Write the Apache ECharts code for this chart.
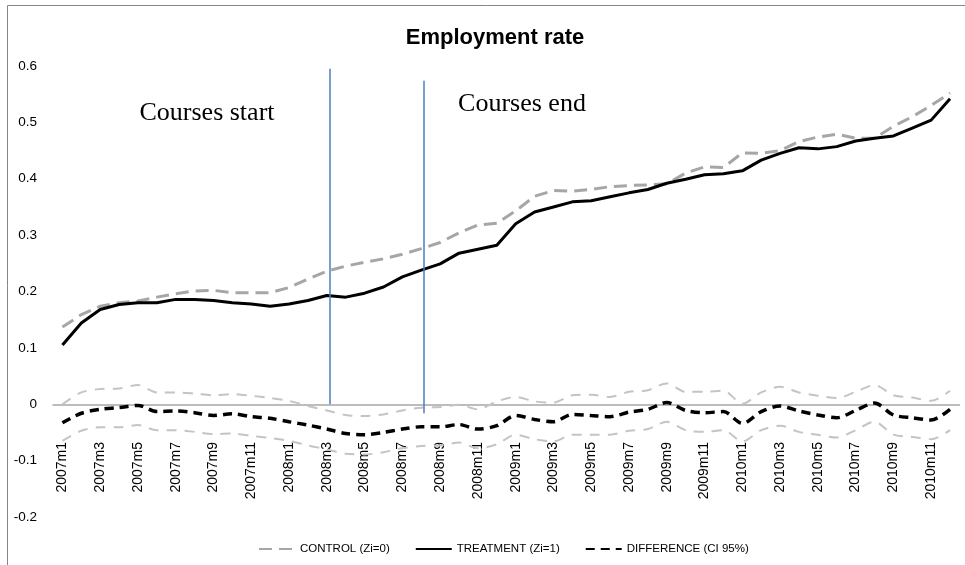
<!DOCTYPE html>
<html>
<head>
<meta charset="utf-8">
<script src="https://cdn.jsdelivr.net/npm/echarts@6/dist/echarts.min.js"></script>
<style>html,body{margin:0;padding:0;background:#fff;}#c{width:965px;height:565px;}</style>
</head>
<body>
<div id="c"></div>
<script>
var categories = ["2007m1","2007m2","2007m3","2007m4","2007m5","2007m6","2007m7","2007m8","2007m9","2007m10","2007m11","2007m12",
"2008m1","2008m2","2008m3","2008m4","2008m5","2008m6","2008m7","2008m8","2008m9","2008m10","2008m11","2008m12",
"2009m1","2009m2","2009m3","2009m4","2009m5","2009m6","2009m7","2009m8","2009m9","2009m10","2009m11","2009m12",
"2010m1","2010m2","2010m3","2010m4","2010m5","2010m6","2010m7","2010m8","2010m9","2010m10","2010m11","2010m12"];

var control = [0.137,0.159,0.174,0.180,0.183,0.190,0.196,0.201,0.202,0.198,0.198,0.198,
0.207,0.222,0.236,0.245,0.252,0.258,0.266,0.276,0.287,0.304,0.318,0.321,
0.343,0.369,0.379,0.378,0.381,0.386,0.388,0.389,0.391,0.410,0.421,0.420,
0.446,0.445,0.450,0.466,0.474,0.479,0.472,0.472,0.493,0.510,0.530,0.552];

var treatment = [0.105,0.144,0.168,0.177,0.180,0.180,0.186,0.186,0.184,0.180,0.178,0.174,
0.178,0.184,0.193,0.190,0.197,0.208,0.226,0.238,0.249,0.268,0.275,0.282,
0.320,0.341,0.350,0.359,0.361,0.368,0.375,0.381,0.392,0.399,0.407,0.409,
0.414,0.433,0.445,0.455,0.453,0.457,0.467,0.472,0.476,0.490,0.504,0.542];

var difference = [-0.033,-0.016,-0.009,-0.006,-0.002,-0.013,-0.012,-0.015,-0.020,-0.017,-0.022,-0.025,
-0.031,-0.037,-0.044,-0.052,-0.054,-0.050,-0.044,-0.040,-0.040,-0.036,-0.044,-0.038,
-0.020,-0.027,-0.031,-0.018,-0.020,-0.022,-0.014,-0.009,0.003,-0.011,-0.015,-0.013,
-0.034,-0.013,-0.003,-0.012,-0.019,-0.024,-0.011,0.002,-0.019,-0.024,-0.028,-0.009];

var ciUpper = [0.000,0.021,0.027,0.028,0.034,0.021,0.021,0.019,0.016,0.018,0.015,0.011,
0.006,-0.003,-0.011,-0.019,-0.021,-0.018,-0.011,-0.006,-0.005,-0.001,-0.009,0.005,
0.013,0.005,0.003,0.016,0.017,0.013,0.022,0.025,0.037,0.022,0.022,0.024,
0.001,0.021,0.031,0.021,0.015,0.011,0.022,0.034,0.016,0.012,0.006,0.024];

var ciLower = [-0.065,-0.047,-0.041,-0.041,-0.037,-0.046,-0.046,-0.049,-0.053,-0.052,-0.056,-0.060,
-0.065,-0.073,-0.080,-0.088,-0.089,-0.085,-0.078,-0.074,-0.073,-0.068,-0.078,-0.071,
-0.054,-0.062,-0.066,-0.054,-0.054,-0.054,-0.047,-0.044,-0.031,-0.046,-0.049,-0.046,
-0.066,-0.046,-0.038,-0.049,-0.054,-0.059,-0.046,-0.031,-0.054,-0.058,-0.062,-0.046];

var yTicks = { min: -0.2, max: 0.6, interval: 0.1 };

// annotation vertical lines: [month position, bottom value, top value]
var courseStartLine = [14.15, 0, 0.595];
var courseEndLine = [19.15, -0.016, 0.574];

var chart = echarts.init(document.getElementById('c'), null, {renderer: 'canvas'});
var font = 'Liberation Sans';

var option = {
  animation: false,
  backgroundColor: '#ffffff',
  title: {
    text: 'Employment rate',
    left: 490, top: 22, textAlign: 'center',
    textStyle: {fontFamily: font, fontWeight: 'bold', fontSize: 22, color: '#000'}
  },
  legend: {
    left: 253, top: 538,
    itemWidth: 36, itemHeight: 12, itemGap: 25,
    data: ['CONTROL (Zi=0)', 'TREATMENT (Zi=1)', 'DIFFERENCE (CI 95%)'],
    itemStyle: {opacity: 0, borderWidth: 0},
    textStyle: {fontFamily: font, fontSize: 11.5, color: '#000'}
  },
  grid: {left: 53, right: 5.5, top: 66, bottom: 48, containLabel: false, outerBoundsMode: 'none'},
  xAxis: [{
    type: 'category', data: categories, boundaryGap: true,
    axisLine: {onZero: true, lineStyle: {color: '#a6a6a6', width: 1.5}},
    axisTick: {show: false},
    axisLabel: {interval: 1, rotate: 90, margin: -75, fontFamily: font, fontSize: 14, color: '#000'},
    splitLine: {show: false}
  }, {
    type: 'value', min: -0.5, max: 47.5, show: false,
    axisLine: {show: false}, splitLine: {show: false}
  }],
  yAxis: {
    type: 'value', min: yTicks.min, max: yTicks.max, interval: yTicks.interval,
    axisLine: {show: false}, axisTick: {show: false},
    splitLine: {show: false},
    axisLabel: {margin: 16, fontFamily: font, fontSize: 13.5, color: '#000',
      formatter: function (v) { var r = Math.round(v * 10) / 10; return r === 0 ? '0' : String(r); }}
  },
  graphic: [
    {type: 'rect', shape: {x: 7.5, y: 5.5, width: 1000, height: 1000}, style: {fill: 'none', stroke: '#868686', lineWidth: 1}, silent: true},
    {type: 'text', x: 207, y: 113, style: {text: 'Courses start', font: '26px "Liberation Serif"', fill: '#000', textAlign: 'center', textVerticalAlign: 'middle'}},
    {type: 'text', x: 522, y: 104, style: {text: 'Courses end', font: '26px "Liberation Serif"', fill: '#000', textAlign: 'center', textVerticalAlign: 'middle'}}
  ],
  series: [
    {
      name: 'CI upper', type: 'line', data: ciUpper, symbol: 'none', smooth: 0.3,
      lineStyle: {color: '#c4c4c4', width: 2, type: [10, 8]}, z: 1
    },
    {
      name: 'CI lower', type: 'line', data: ciLower, symbol: 'none', smooth: 0.3,
      lineStyle: {color: '#c4c4c4', width: 2, type: [10, 8]}, z: 1
    },
    {
      name: 'CONTROL (Zi=0)', type: 'line', data: control, symbol: 'none',
      itemStyle: {color: '#a6a6a6'},
      lineStyle: {color: '#a6a6a6', width: 3, type: [13, 7]}, z: 2
    },
    {
      name: 'TREATMENT (Zi=1)', type: 'line', data: treatment, symbol: 'none',
      itemStyle: {color: '#000'},
      lineStyle: {color: '#000', width: 3}, z: 3
    },
    {
      name: 'DIFFERENCE (CI 95%)', type: 'line', data: difference, symbol: 'none', smooth: 0.3,
      itemStyle: {color: '#000'},
      lineStyle: {color: '#000', width: 3.5, type: [9, 6]}, z: 3
    },
    {
      name: 'annotations', type: 'line', xAxisIndex: 1, data: [], symbol: 'none',
      markLine: {
        silent: true, symbol: 'none', label: {show: false},
        lineStyle: {color: '#4a7ebb', width: 1.5, type: 'solid'},
        data: [
          [{coord: [courseStartLine[0], courseStartLine[1]]}, {coord: [courseStartLine[0], courseStartLine[2]]}],
          [{coord: [courseEndLine[0], courseEndLine[1]]}, {coord: [courseEndLine[0], courseEndLine[2]]}]
        ]
      }
    }
  ]
};
chart.setOption(option);
</script>
</body>
</html>
